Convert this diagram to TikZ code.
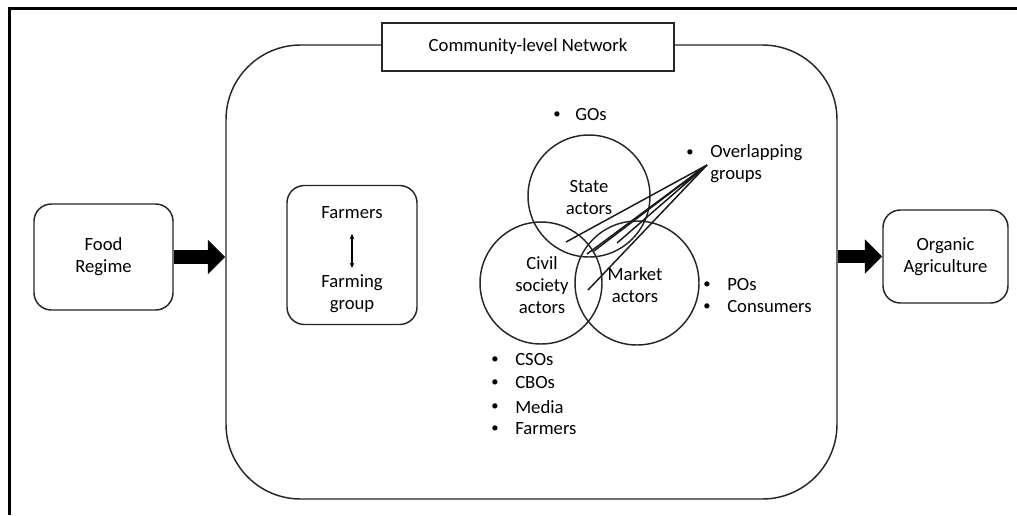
\documentclass[tikz,border=0pt]{standalone}
\usepackage{fontspec}
\setmainfont{Carlito}
\usetikzlibrary{arrows.meta}
\begin{document}
\begin{tikzpicture}[x=0.75pt,y=-0.75pt,
  every node/.style={font=\fontsize{14}{16.5}\selectfont, inner sep=0pt},
  rbox/.style={draw=black!85, line width=1.1pt, rounded corners=13pt, align=center},
  venn/.style={draw=black!85, line width=1.1pt, circle, minimum size=91.5pt},
  lbl/.style={align=center},
  item/.style={anchor=west},
  bul/.style={font=\fontsize{11}{13}\selectfont},
  blockarrow/.style={line width=10pt, -{Triangle[length=13pt,width=25pt]}},
  callout/.style={line width=1.1pt, black!90}
]
\useasboundingbox (0,0) rectangle (1017,515);
% outer frame (cropped)
\draw[line width=1.6pt] (9.5,515) -- (9.5,8.5) -- (1017,8.5);

% big network box
\node[draw=black!85, line width=1.1pt, rounded corners=56pt, minimum width=458.25pt, minimum height=340.5pt] (net) at (531.5,272) {};
\node[draw=black!85, line width=1.1pt, fill=white, minimum width=219pt, minimum height=36pt] (title) at (528,47) {Community-level Network};

% side boxes
\node[rbox, minimum width=104.25pt, minimum height=79.5pt] (food) at (103.5,257) {Food\\Regime};
\node[rbox, minimum width=93.75pt, minimum height=69.75pt] (org) at (945.5,256.5) {Organic\\Agriculture};

\draw[blockarrow] (food.east) -- (food.east -| net.west);
\coordinate (orgw) at (org.west);
\draw[blockarrow] (orgw -| net.east) -- (orgw);

% farmers box
\node[rbox, minimum width=97.5pt, minimum height=104.25pt] (fbox) at (352,255) {};
\node[lbl] (farmers) at (352,213) {Farmers};
\node[lbl] (farming) at (352,294) {Farming\\group};
\coordinate (fa1) at (352,234);
\coordinate (fa2) at (352,268);
\draw[line width=0.8pt, {Stealth[length=4pt,width=3.5pt]}-{Stealth[length=4pt,width=3.5pt]}] (fa1) -- (fa2);

% Venn circles
\node[venn] (state) at (589,196) {};
\node[venn] (civil) at (541,283) {};
\node[venn, minimum size=93pt] (market) at (637,283) {};
\node[lbl] (statet) at (589,198) {State\\actors};
\node[lbl] (civilt) at (542,285) {Civil\\society\\actors};
\node[lbl] (markett) at (635,285) {Market\\actors};

% bullets
\node[bul] (b1) at (557,115) {•};
\node[item] (gos) at (575,115) {GOs};
\node[bul] (b2) at (690,153) {•};
\node[item, align=left] (over) at (710,164) {Overlapping\\groups};
\node[bul] (b3) at (707,285) {•};
\node[item] (pos) at (727,285) {POs};
\node[bul] (b4) at (707,307) {•};
\node[item] (cons) at (727,307) {Consumers};
\node[bul] (b5) at (495,360) {•};
\node[item] (csos) at (515,360) {CSOs};
\node[bul] (b6) at (495,383) {•};
\node[item] (cbos) at (515,383) {CBOs};
\node[bul] (b7) at (495,407) {•};
\node[item] (media) at (515,407) {Media};
\node[bul] (b8) at (495,429) {•};
\node[item] (farm2) at (515,429) {Farmers};

% callout lines
\coordinate (apex) at (707,165);
\coordinate (p1) at (566,242);
\coordinate (p2) at (587,254);
\coordinate (p3) at (594,251);
\coordinate (p4) at (617,243);
\coordinate (p5) at (588,290);
\draw[callout] (p1) -- (apex) -- (p2);
\draw[callout] (p3) -- (apex) -- (p4);
\draw[callout] (apex) -- (p5);
\end{tikzpicture}
\end{document}
